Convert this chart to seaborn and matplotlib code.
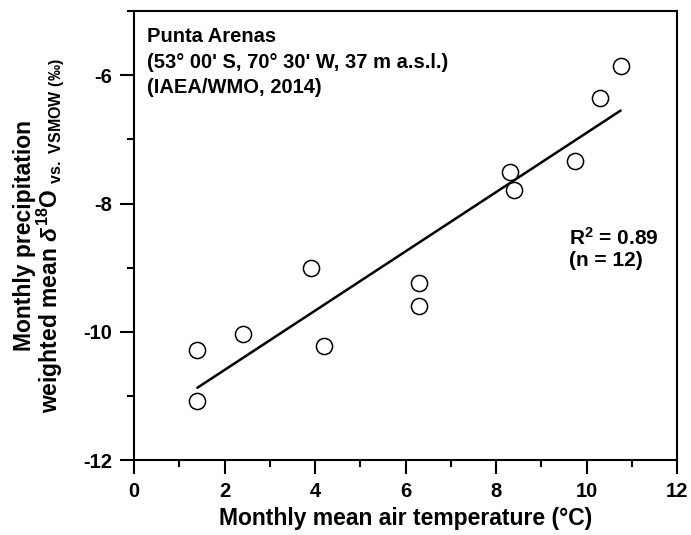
import matplotlib
matplotlib.use("Agg")
import matplotlib.pyplot as plt
from matplotlib.ticker import MultipleLocator
import seaborn as sns
import pandas as pd

# Monthly means, Punta Arenas station
temperature_c = [1.4, 1.4, 2.4, 3.9, 4.2, 6.3, 6.3, 8.3, 8.4, 9.75, 10.3, 10.75]
d18o_permil = [-11.08, -10.28, -10.04, -9.01, -10.22, -9.24, -9.59,
               -7.51, -7.79, -7.33, -6.35, -5.85]

x_ticks = [0, 2, 4, 6, 8, 10, 12]
y_ticks = [-12, -10, -8, -6]

df = pd.DataFrame({"temp": temperature_c, "d18o": d18o_permil})

sns.set_theme(style="ticks")
plt.rcParams["font.family"] = ["Liberation Sans", "DejaVu Sans"]
plt.rcParams["font.weight"] = "bold"
plt.rcParams["mathtext.fontset"] = "custom"
plt.rcParams["mathtext.rm"] = "Liberation Sans"
plt.rcParams["mathtext.it"] = "Liberation Sans:italic"
plt.rcParams["mathtext.bf"] = "Liberation Sans:bold"
for key in ["text.color", "axes.labelcolor", "xtick.color", "ytick.color",
            "axes.edgecolor"]:
    plt.rcParams[key] = "black"

fig = plt.figure(figsize=(6.91, 5.35), dpi=100)
ax = fig.add_axes([0.194, 0.140, 0.786, 0.839])

# least-squares line over the data range
sns.regplot(data=df, x="temp", y="d18o", ax=ax, scatter=False, ci=None,
            truncate=True, line_kws=dict(color="black", lw=1.8, zorder=2))
sns.scatterplot(data=df, x="temp", y="d18o", ax=ax, s=135, marker="o",
                facecolor="white", edgecolor="black", linewidth=1.1, zorder=3)

ax.set_xlim(0, 12)
ax.set_ylim(-12, -5)
ax.set_xticks(x_ticks)
ax.set_yticks(y_ticks)
ax.set_xticklabels([str(v) for v in x_ticks])
ax.set_yticklabels([str(v) for v in y_ticks])
ax.xaxis.set_minor_locator(MultipleLocator(1))
ax.yaxis.set_minor_locator(MultipleLocator(1))

for side in ["left", "right", "top", "bottom"]:
    ax.spines[side].set_visible(True)
    ax.spines[side].set_linewidth(1.5)
    ax.spines[side].set_color("black")

ax.tick_params(axis="both", which="major", direction="out", length=10,
               width=1.5, color="black", labelcolor="black", labelsize=14.5,
               pad=6)
ax.tick_params(axis="both", which="minor", direction="out", length=5,
               width=1.5, color="black")
ax.tick_params(top=False, right=False, which="both")
for lab in ax.get_xticklabels() + ax.get_yticklabels():
    lab.set_fontweight("bold")

ax.set_xlabel("Monthly mean air temperature (°C)", fontsize=16.5,
              fontweight="bold", labelpad=4, color="black")
ax.set_ylabel("Monthly precipitation\n"
              r"weighted mean $\delta^{18}$O $_{\mathrm{vs.\ VSMOW\ (‰)}}$",
              fontsize=16.5, fontweight="bold", labelpad=12, linespacing=0.95,
              color="black")

ax.text(0.024, 0.965,
        "Punta Arenas\n(53° 00' S, 70° 30' W, 37 m a.s.l.)\n(IAEA/WMO, 2014)",
        transform=ax.transAxes, ha="left", va="top", fontsize=14.5,
        fontweight="bold", linespacing=1.45, color="black")
ax.text(0.80, 0.52, "R$^{\\mathbf{2}}$ = 0.89\n(n = 12)",
        transform=ax.transAxes, ha="left", va="top", fontsize=15,
        fontweight="bold", linespacing=1.15, color="black")

fig.savefig("out.png", dpi=100)
